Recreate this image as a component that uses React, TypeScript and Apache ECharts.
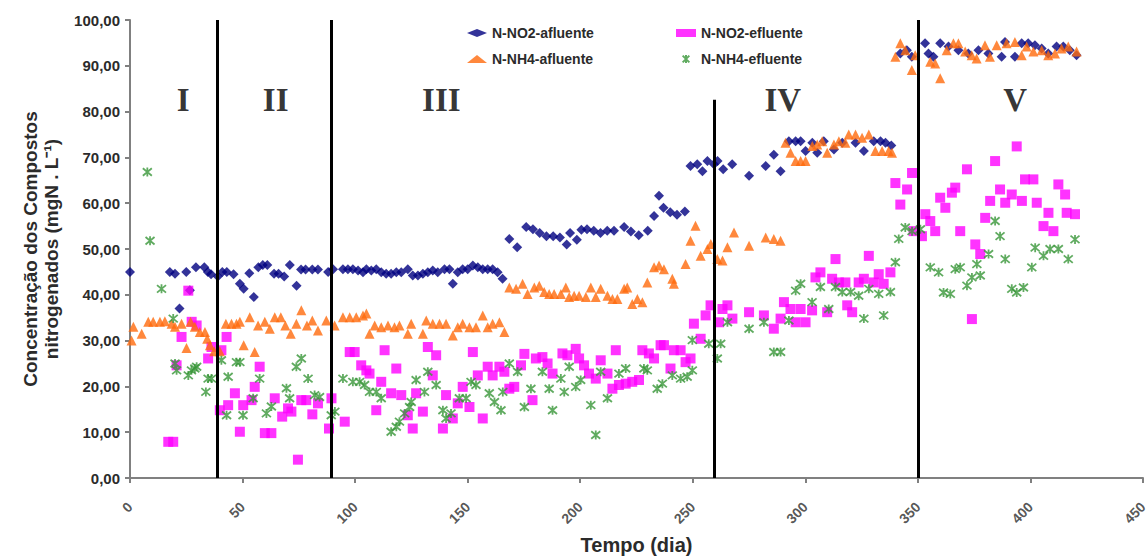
import React, { useEffect, useRef } from "react";
import * as echarts from "echarts";

// ---- Data (day, concentration mgN/L) ----
const nno2Afluente: [number, number][] = [
  [0, 45], [17.7, 45], [20, 44.6], [22, 37], [25, 45], [26.6, 41], [29.3, 46], [33, 46], [34.6, 45], [36, 44.5],
  [39, 44], [41, 45], [43, 45], [46, 44.5], [48.8, 42.4], [50.5, 41.3], [53, 44.7], [55, 39.5], [57, 46], [59, 46.5],
  [61, 46.5], [64, 44.6], [66, 44.6], [68.5, 44], [71, 46.5], [74, 42], [76, 45.5], [78, 45.5], [81, 45.5], [83.5, 45.5],
  [88, 45], [90.2, 45.6], [94.6, 45.6], [96.8, 45.6], [99, 45.6], [101.3, 45.3], [103.5, 44.9], [105, 45.6], [107.2, 45.3],
  [109.4, 45.6], [111.6, 44.9], [113.8, 44.6], [116, 44.6], [118.3, 44.9], [120.5, 44.9], [123.4, 45.6], [125.6, 44.2],
  [127.9, 44.2], [130.1, 44.6], [132.3, 44.9], [134.5, 45.3], [136.7, 44.9], [139.7, 45.6], [141.9, 45.6], [143.4, 42.4],
  [145.6, 44.9], [147.8, 45.6], [150, 45.6], [152.3, 46.4], [154.5, 46], [156.7, 45.6], [158.9, 45.6], [161.1, 45.6],
  [163.3, 44.9], [165.5, 43.5], [168.5, 52.2], [172, 50.4], [176, 54.8], [179, 54.3], [182, 53.5], [185, 52.8], [188, 52.8],
  [191, 52.5], [194, 51], [195.5, 53.5], [198.5, 52], [200.5, 54.2], [203, 54.3], [206, 54], [209, 53.5], [212, 54], [215, 54],
  [219.5, 54.8], [222.5, 53.8], [226, 53], [230, 54], [232.8, 57.2], [235, 61.6], [237, 59], [240, 58], [243, 57.5],
  [246.5, 58.2], [249, 68.1], [252, 68.5], [254.3, 67], [256.5, 69.2], [259.4, 68.5], [261, 69.2], [263.5, 67.4],
  [267.5, 68.5], [275, 66], [282.4, 68.1], [286, 70.6], [289, 67], [292.7, 73.5], [295.7, 73.5], [297.9, 73.5], [300.1, 71.4],
  [303.1, 73.2], [305.3, 71], [308.2, 73.5], [312.7, 71.7], [316.4, 73.2], [322.3, 73.2], [326, 71.4], [330.4, 73.5],
  [333.4, 73.5], [335.6, 73.2], [338.2, 72.6], [342.2, 92.7], [345.1, 93.4], [347.3, 92], [353.2, 94.9], [354.7, 92.7],
  [356.9, 92], [359.9, 94.9], [363.6, 94.2], [368, 93.4], [372.4, 92.7], [376.9, 93.4], [381.3, 92.7], [387.2, 92],
  [388.7, 95.2], [393.1, 92], [396.1, 94.9], [399, 94.9], [402, 94.5], [405, 93.8], [407.9, 92.7], [411.6, 94.2],
  [414.6, 94.2], [417.5, 93.4], [420.5, 92.3],
];

const nno2Efluente: [number, number][] = [
  [17, 7.9], [19.2, 7.9], [20.7, 24.6], [22.9, 30.8], [25.9, 40.9], [27.4, 34.1], [29.6, 33.3], [34.7, 26.1], [36.2, 28.6],
  [39.9, 14.8], [40.6, 27.9], [42.9, 30.8], [43.6, 15.9], [46.6, 18.5], [48.8, 10.1], [50.3, 15.9], [54, 17], [55.4, 19.9],
  [57.6, 24.3], [59.9, 9.8], [62.8, 9.8], [64.3, 17.4], [67.6, 13.4], [70.2, 15.2], [71.7, 14.5], [74.6, 4], [76.1, 17],
  [78.3, 17], [81, 13.9], [83.5, 16.3], [88.4, 10.8], [89.5, 17.4], [95.4, 12.3], [97.6, 27.5], [99.8, 27.5], [102.7, 24.6],
  [105, 23.5], [106.4, 22.8], [109.4, 14.8], [111.6, 21], [113.1, 27.9], [116, 18.5], [118.3, 23.9], [120.5, 18.1],
  [123.4, 13.7], [125.6, 10.8], [127.1, 18.5], [130.1, 14.5], [132.3, 28.6], [134.5, 22.4], [136, 26.8], [139, 10.8],
  [140.4, 18.1], [143.4, 13], [145.6, 16.3], [147.8, 19.9], [150.8, 15.5], [152.3, 27.5], [154.5, 22.4], [156.7, 13],
  [158.9, 24.3], [161.1, 22.4], [164.1, 24.3], [166.3, 23.2], [168.5, 19.5], [170.7, 19.9], [173.7, 24.6], [175.2, 27.1],
  [178.8, 17], [180.3, 26.1], [183.2, 26.4], [185.5, 25], [187.7, 22.8], [192.1, 27.2], [194.3, 26.8], [198, 28.2],
  [199.5, 26.1], [201.7, 24.6], [203.9, 22.8], [206.9, 21.7], [209.1, 25.7], [212.1, 22.8], [214.3, 19.5], [215.8, 27.9],
  [217.2, 20.3], [220.2, 20.6], [223.1, 21], [226.1, 21.4], [227.6, 27.9], [230.5, 27.2], [232.8, 26.1], [235.7, 29],
  [237.2, 29], [240.1, 23.9], [241.6, 27.9], [244.6, 27.9], [246.8, 25.3], [249, 26.1], [250.5, 33.7], [253.5, 30.4],
  [255.7, 35.5], [257.9, 37.7], [261.7, 34], [263.2, 36.9], [265.4, 37.7], [267.6, 34.8], [275, 36.2], [281.6, 35.5],
  [286, 32.6], [289, 34.8], [290.5, 38.4], [293.4, 36.9], [295.7, 34], [297.9, 36.9], [300.1, 34], [303, 36.6], [304.5, 43.8],
  [306.7, 44.9], [309.7, 36.2], [311.9, 43.5], [313.4, 47.8], [314.9, 42.7], [317.8, 42.7], [318.6, 37.7], [320.8, 36.2],
  [323.7, 42.7], [326, 43.5], [328.2, 48.5], [330.4, 42.7], [332.6, 44.5], [334.8, 42.4], [337.8, 44.9], [340, 64.4],
  [342.2, 59.7], [345.2, 63], [347.4, 66.6], [348.1, 53.9], [351.8, 52.8], [353.3, 57.6], [355.5, 56.1], [357.7, 53.9],
  [359.9, 61.2], [362.2, 59], [365.1, 62.3], [366.6, 63.4], [368.8, 53.9], [371.8, 67.4], [374, 34.7], [375.5, 51],
  [377.7, 48.9], [379.9, 56.8], [382.1, 60.5], [384.3, 69.2], [386.5, 63], [388.8, 60.1], [391.7, 61.9], [393.9, 72.4],
  [396.2, 60.5], [397.6, 65.2], [401.3, 65.2], [402.8, 60.1], [405.8, 55], [408, 57.9], [410.2, 53.9], [412.4, 64.1],
  [415.4, 61.9], [416.1, 57.9], [419.8, 57.6],
];

const nnh4Afluente: [number, number][] = [
  [0.7, 30], [1.5, 33], [5.2, 31.5], [8.1, 34.1], [10.3, 34.1], [13.3, 34.1], [15.5, 34.2], [18.5, 33.7], [20, 33],
  [22.9, 33.7], [25.1, 28.4], [26.9, 34.1], [28.8, 33], [31, 31.9], [33.3, 31.9], [34.3, 30.4], [35.5, 29], [37.4, 27.7],
  [39.9, 27.7], [42.6, 33.7], [45.1, 33.7], [47.3, 33.7], [48.8, 34.1], [50.5, 29], [53.2, 35.1], [55.4, 27.5], [56.9, 33.3],
  [59.9, 34.1], [62.1, 32.6], [64.3, 35.1], [67, 35.1], [69, 33.3], [71.4, 31.5], [73.9, 33.7], [76.1, 36.6], [78.6, 33.3],
  [81, 34.4], [83.5, 32.2], [87.2, 34.4], [90.9, 33.3], [94.6, 35.1], [97.6, 35.1], [100.5, 35.1], [103.5, 35.5], [105, 35.9],
  [106.4, 31.5], [108.7, 33.3], [111.6, 32.9], [114.6, 33.3], [117.5, 32.9], [119.7, 33.3], [123.4, 31.5], [124.9, 33.7],
  [130.1, 31.5], [131.6, 34.4], [134.5, 33.7], [137.5, 33.7], [140.4, 33.7], [143.4, 31.1], [145.6, 32.9], [147.8, 33.7],
  [150.8, 32.9], [153.7, 32.9], [156.7, 35.5], [158.9, 32.9], [161.1, 33.7], [164.1, 34], [166.3, 31.9], [168.5, 41.6],
  [171.5, 41.3], [174.4, 42.4], [176.6, 40.2], [179.6, 41.6], [181.8, 42], [184, 40.6], [186.2, 40.2], [188.4, 40.2],
  [191.4, 40.2], [193.6, 41.6], [195.1, 39.5], [197.3, 39.8], [199.5, 39.8], [202.5, 39.5], [204.7, 41.6], [206.9, 39.5],
  [209.1, 41.3], [212.1, 39.8], [214.3, 39.1], [216.5, 39.1], [219.5, 41.3], [220.9, 41.6], [223.1, 38], [225.4, 39.1],
  [227.6, 38.4], [229.8, 42.7], [232.8, 46], [235, 46.4], [237.2, 45.6], [240.9, 43.5], [241.6, 42.4], [246.8, 46.7],
  [249, 51.8], [251.2, 55.1], [253.5, 48.5], [256.5, 50], [258, 51.1], [260.9, 47.8], [263.2, 47.5], [265.4, 50.4],
  [268.3, 53.6], [275, 50.7], [282.4, 52.5], [286, 52.2], [289, 51.8], [291.2, 73.2], [293.4, 71], [295.7, 69.2],
  [297.9, 69.2], [300.1, 69.2], [303.1, 72.5], [305.3, 72.8], [307.5, 73.5], [309.7, 71], [312.7, 72.8], [314.9, 73.5],
  [317.8, 73.2], [319.3, 75], [322.3, 75], [325.2, 74.3], [328.2, 75], [331.1, 71.4], [334.1, 71.4], [337, 71.4], [338.5, 71],
  [340, 92], [342.2, 94.9], [344.4, 93.4], [347.3, 89.1], [348.8, 92.3], [355.5, 90.9], [357.7, 90.5], [359.9, 87.3],
  [362.8, 93.4], [365.8, 94.9], [368, 94.9], [371, 93.1], [373.9, 92.3], [376.1, 91.6], [379.8, 94.5], [382, 92],
  [385, 94.5], [389.4, 94.9], [393.1, 95.2], [396.1, 92.3], [398.3, 94.2], [401.3, 93.1], [405, 93.4], [407.9, 92.3],
  [410.9, 92.7], [413.8, 93.8], [416.8, 94.2], [420.5, 93.1],
];

const nnh4Efluente: [number, number][] = [
  [7.7, 66.8], [8.9, 51.8], [14, 41.3], [19.2, 34.8], [20, 25], [20.7, 23.5], [25.9, 22.4], [27.3, 23.5], [28.8, 23.9],
  [29.6, 24.3], [33.7, 18.8], [34.7, 21.7], [36.2, 21.7], [40.6, 25.7], [42.9, 13.7], [43.6, 22.1], [47.3, 25.3], [48.8, 25.3],
  [50.2, 13.7], [54.7, 17.4], [57.6, 21.7], [60.6, 14.1], [62.8, 15.6], [69.5, 19.6], [70.9, 17.4], [73.9, 24.3],
  [76.1, 26.1], [79.1, 21.7], [82, 18.1], [84.2, 17.7], [89.4, 13.7], [91, 14.5], [94.6, 21.7], [99, 21], [102, 21],
  [104.2, 20.3], [106.4, 18.8], [109.4, 18.8], [111.6, 17.4], [116, 10.1], [118.3, 11.2], [119.7, 12.3], [122, 14.1],
  [124.2, 15.5], [124.9, 16.6], [127.1, 21.4], [130.8, 18.8], [132.3, 23.2], [136, 20.3], [139, 14.8], [140.4, 13],
  [142.6, 14.1], [146.3, 17.4], [149.3, 17.4], [151.5, 21], [153.7, 20.3], [159.6, 18.5], [161.9, 16.6], [164.8, 14.8],
  [165.6, 18.8], [168.5, 25], [172.2, 23.2], [175.2, 15.5], [178.1, 19.5], [183.2, 23.2], [186.2, 19.5], [187.7, 14.8],
  [191.4, 21.7], [192.9, 18.8], [195.1, 24.3], [198, 19.9], [200.2, 21.4], [204.7, 15.9], [206.9, 9.4], [209.1, 23.2],
  [212.1, 17.4], [217.2, 22.8], [220.2, 23.9], [228.3, 23.9], [229.8, 23.5], [234.2, 19.5], [236.5, 20.6], [240.9, 22.4],
  [244.6, 21.7], [247.5, 22.1], [249.8, 23.5], [249.8, 30.1], [257.1, 29.3], [260.9, 26.1], [262.4, 29.3], [265.4, 34],
  [275, 32.6], [281.6, 34], [286, 27.5], [289, 27.5], [292.7, 34.4], [295.7, 40.9], [297.9, 42.4], [303, 38.4],
  [306.7, 41.7], [310.4, 36.9], [313.4, 41.7], [316.4, 40.6], [320.1, 40.6], [323.7, 39.8], [326, 34.8], [328.2, 41.3],
  [332.6, 40.2], [334.8, 35.5], [337.8, 40.6], [340, 47.1], [341.5, 52.2], [344.4, 54.7], [347.4, 53.9], [351.1, 54.3],
  [355.5, 46], [359.2, 44.9], [361.4, 40.5], [364.4, 40.2], [366.6, 45.6], [368.8, 46], [371.8, 42], [374, 43.8],
  [376.2, 46.7], [377.7, 44.2], [381.4, 48.9], [384.3, 56.1], [386.5, 52.8], [388.8, 47.8], [391.7, 41.3], [393.9, 40.5],
  [396.9, 41.6], [400.6, 46], [402.1, 50.3], [405.8, 48.5], [408.7, 50], [412.4, 50], [416.8, 47.8], [419.8, 52.1],
];

const seriesNames = ["N-NO2-afluente", "N-NO2-efluente", "N-NH4-afluente", "N-NH4-efluente"];
const xTickValues = [0, 50, 100, 150, 200, 250, 300, 350, 400, 450];
const phaseNames = ["I", "II", "III", "IV", "V"];
const phaseLabelDays = [23.6, 64.7, 138.3, 290, 393.2];
const phaseLabelLevel = 82.6;
const phaseBoundaryDays = [38.7, 89.4, 259.4, 350.3];
const phaseBoundaryTops = [100, 100, 82.6, 100];

const SANS = '"Liberation Sans", Arial, Helvetica, sans-serif';
const SERIF = '"Liberation Serif", "Times New Roman", serif';
const AXIS_GRAY = "#808080";
const TEXT = "#2b2b2b";

const colors = ["#000080", "#FF00FF", "#FF6A0D", "#389638"];
const asterisk = "path://M0,0L10,10M10,0L0,10M5,-1L5,11";

export default function App() {
  const ref = useRef<HTMLDivElement>(null);

  useEffect(() => {
    if (!ref.current) return;
    const chart = echarts.init(ref.current, null, { renderer: "svg" });

    const legendText = { fontFamily: SANS, fontWeight: "bold" as const, fontSize: 14, color: TEXT, lineHeight: 16 };

    const option: any = {
      animation: false,
      backgroundColor: "#ffffff",
      grid: { left: 130, right: 5, top: 20, bottom: 80 },
      legend: [
        {
          data: [seriesNames[0], seriesNames[2]],
          orient: "vertical",
          left: 462,
          top: 20,
          itemWidth: 20,
          itemHeight: 8,
          itemGap: 10,
          textStyle: legendText,
        },
        {
          data: [seriesNames[1], seriesNames[3]],
          orient: "vertical",
          left: 671,
          top: 20,
          itemWidth: 20,
          itemHeight: 8,
          itemGap: 10,
          textStyle: legendText,
        },
      ],
      xAxis: {
        type: "value",
        min: 0,
        max: 450,
        interval: 50,
        name: "Tempo (dia)",
        nameLocation: "middle",
        nameGap: 57,
        nameTextStyle: { fontFamily: SANS, fontWeight: "bold", fontSize: 20, color: TEXT },
        axisLine: { show: true, onZero: false, lineStyle: { color: AXIS_GRAY, width: 2 } },
        axisTick: { show: true, length: 5, lineStyle: { color: AXIS_GRAY, width: 2 } },
        axisLabel: { show: false },
        splitLine: { show: false },
      },
      yAxis: {
        type: "value",
        min: 0,
        max: 100,
        interval: 10,
        name: "Concentração dos Compostos\nnitrogenados (mgN . L⁻¹)",
        nameLocation: "middle",
        nameGap: 68,
        nameRotate: 90,
        nameTextStyle: { fontFamily: SANS, fontWeight: "bold", fontSize: 19, color: TEXT, lineHeight: 21, align: "center" },
        axisLine: { show: true, onZero: false, lineStyle: { color: AXIS_GRAY, width: 2 } },
        axisTick: { show: true, length: 5, lineStyle: { color: AXIS_GRAY, width: 2 } },
        axisLabel: {
          margin: 10,
          fontFamily: SANS,
          fontWeight: "bold",
          fontSize: 15,
          color: TEXT,
          formatter: (v: number) => v.toFixed(2).replace(".", ","),
        },
        splitLine: { show: false },
      },
      series: [
        {
          name: seriesNames[0],
          type: "scatter",
          symbol: "diamond",
          symbolSize: 10,
          itemStyle: { color: colors[0] },
          data: nno2Afluente,
        },
        {
          name: seriesNames[1],
          type: "scatter",
          symbol: "rect",
          symbolSize: 10,
          itemStyle: { color: colors[1] },
          data: nno2Efluente,
        },
        {
          name: seriesNames[2],
          type: "scatter",
          symbol: "triangle",
          symbolSize: 10,
          itemStyle: { color: colors[2] },
          data: nnh4Afluente,
        },
        {
          name: seriesNames[3],
          type: "scatter",
          symbol: asterisk,
          symbolSize: 9,
          itemStyle: { color: "none", borderColor: colors[3], borderWidth: 1.8 },
          data: nnh4Efluente,
        },
        {
          name: "fases",
          type: "scatter",
          symbolSize: 1,
          silent: true,
          itemStyle: { color: "rgba(0,0,0,0)" },
          label: {
            show: true,
            position: "inside",
            formatter: "{b}",
            fontFamily: SERIF,
            fontWeight: "bold",
            fontSize: 33,
            color: "#000",
          },
          data: phaseNames.map((n, i) => ({ name: n, value: [phaseLabelDays[i], phaseLabelLevel] })),
          markLine: {
            silent: true,
            symbol: ["none", "none"],
            label: { show: false },
            lineStyle: { color: "#000", width: 3, type: "solid" },
            data: phaseBoundaryDays.map((d, i) => [
              { coord: [d, 0] },
              { coord: [d, phaseBoundaryTops[i]] },
            ]),
          },
        },
        {
          name: "xTickLabels",
          type: "scatter",
          symbolSize: 1,
          silent: true,
          clip: false,
          itemStyle: { color: "rgba(0,0,0,0)" },
          label: {
            show: true,
            position: [0.5, 27],
            align: "right",
            verticalAlign: "middle",
            rotate: 45,
            formatter: (p: any) => String(p.value[0]),
            fontFamily: SANS,
            fontWeight: "bold",
            fontSize: 14,
            color: TEXT,
          },
          data: xTickValues.map((v) => [v, 0]),
        },
      ],
    };

    chart.setOption(option);
    return () => chart.dispose();
  }, []);

  return (
    <div
      ref={ref}
      style={{ position: "fixed", left: 0, top: 0, width: 1148, height: 560, background: "#fff" }}
    />
  );
}
